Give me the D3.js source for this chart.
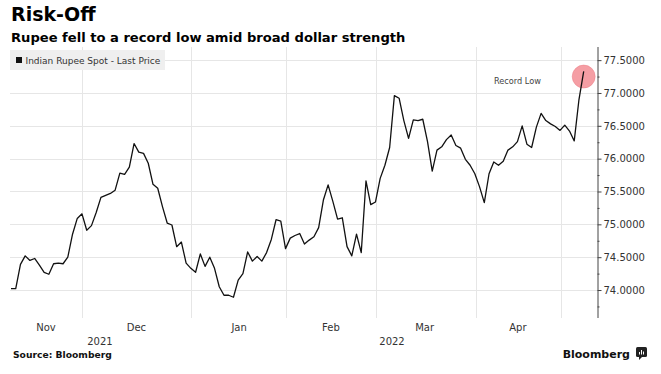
<!DOCTYPE html>
<html>
<head>
<meta charset="utf-8">
<script src="https://cdn.jsdelivr.net/npm/d3@7/dist/d3.min.js"></script>
<style>
  html, body { margin: 0; padding: 0; background: #fff; }
  svg { display: block; }
  text { font-family: "DejaVu Sans", sans-serif; }
</style>
</head>
<body>
<svg id="chart" width="661" height="374"></svg>
<script>
// ---- Data ----
const seriesName = "Indian Rupee Spot - Last Price";
const values = [
  74.02, 74.02, 74.39, 74.52, 74.45, 74.48, 74.38, 74.27, 74.24, 74.40,
  74.41, 74.40, 74.50, 74.85, 75.09, 75.16, 74.91, 74.98, 75.18, 75.41,
  75.44, 75.47, 75.52, 75.78, 75.76, 75.87, 76.23, 76.10, 76.08, 75.93,
  75.61, 75.55, 75.27, 75.02, 74.99, 74.66, 74.73, 74.41, 74.33, 74.27,
  74.55, 74.36, 74.50, 74.33, 74.05, 73.92, 73.92, 73.89, 74.15, 74.25,
  74.58, 74.44, 74.51, 74.44, 74.57, 74.77, 75.07, 75.05, 74.63, 74.79,
  74.83, 74.86, 74.70, 74.76, 74.81, 74.95, 75.37, 75.60, 75.35, 75.08,
  75.10, 74.66, 74.52, 74.85, 74.57, 75.66, 75.30, 75.34, 75.70, 75.90,
  76.17, 76.96, 76.92, 76.58, 76.31, 76.59, 76.58, 76.60, 76.26, 75.81,
  76.13, 76.18, 76.29, 76.36, 76.20, 76.16, 75.99, 75.90, 75.77, 75.57,
  75.33, 75.77, 75.95, 75.90, 75.96, 76.13, 76.18, 76.26, 76.50, 76.22,
  76.17, 76.48, 76.69, 76.58, 76.53, 76.49, 76.43, 76.51, 76.42, 76.27,
  76.90, 77.33
];
const yTickValues = [74.0, 74.5, 75.0, 75.5, 76.0, 76.5, 77.0, 77.5];
const yMinorTickValues = [73.75, 74.25, 74.75, 75.25, 75.75, 76.25, 76.75, 77.25];
const monthLabels = ["Nov", "Dec", "Jan", "Feb", "Mar", "Apr"];
const monthLabelIdx = [7.4, 26.5, 48.2, 67.6, 87.4, 107.1];
const monthGridIdx = [15.0, 38.0, 58.1, 77.1, 98.2, 116.2];
const yearLabels = ["2021", "2022"];
const yearLabelIdx = [18.8, 80.5];
const recordLowValue = 77.25;
const recordLowLabel = "Record Low";
const recordLowLabelIdx = 107.0;
const recordLowLabelValue = 77.14;

// ---- Layout ----
const svg = d3.select("#chart");
const plotLeft = 10, plotRight = 597.5, plotTop = 47, plotBottom = 318;

const x = d3.scaleLinear().domain([0, values.length - 1]).range([11, 583.7]);
const y = d3.scaleLinear().domain([73.574, 77.70]).range([plotBottom, plotTop]);

// Horizontal gridlines
svg.append("g").selectAll("line").data(yTickValues).join("line")
  .attr("x1", plotLeft).attr("x2", plotRight)
  .attr("y1", d => Math.round(y(d)) + 0.5).attr("y2", d => Math.round(y(d)) + 0.5)
  .attr("stroke", "#e6e6e6").attr("stroke-width", 1);

// Vertical gridlines
svg.append("g").selectAll("line").data(monthGridIdx).join("line")
  .attr("x1", d => Math.round(x(d)) + 0.5).attr("x2", d => Math.round(x(d)) + 0.5)
  .attr("y1", plotTop).attr("y2", plotBottom)
  .attr("stroke", "#e6e6e6").attr("stroke-width", 1);

// Legend
const lg = svg.append("g");
lg.append("rect").attr("x", 10).attr("y", 50).attr("width", 155).attr("height", 20).attr("fill", "#efefef");
lg.append("rect").attr("x", 16).attr("y", 57).attr("width", 6).attr("height", 6).attr("fill", "#111");
lg.append("text").attr("x", 25.5).attr("y", 63.5).attr("font-size", 9).attr("fill", "#333").text(seriesName);

// Y axis (right)
const yAxis = d3.axisRight(y).tickValues(yTickValues).tickSize(4).tickPadding(2).tickFormat(d3.format(".4f"));
const ag = svg.append("g").attr("transform", `translate(${plotRight},0)`).call(yAxis);
ag.select(".domain").attr("d", `M0.5,${plotTop}V${plotBottom}`).attr("stroke", "#444");
ag.selectAll(".tick line").attr("stroke", "#444");
ag.selectAll(".tick text").attr("font-family", "DejaVu Sans").attr("font-size", 10).attr("fill", "#333");
const minor = d3.axisRight(y).tickValues(yMinorTickValues).tickSize(2).tickFormat("");
const mg = svg.append("g").attr("transform", `translate(${plotRight},0)`).call(minor);
mg.select(".domain").remove();
mg.selectAll(".tick line").attr("stroke", "#444");

// Month & year labels
svg.append("g").selectAll("text").data(monthLabels).join("text")
  .attr("x", (d, i) => x(monthLabelIdx[i])).attr("y", 331)
  .attr("text-anchor", "middle").attr("font-size", 10).attr("fill", "#333").text(d => d);
svg.append("g").selectAll("text").data(yearLabels).join("text")
  .attr("x", (d, i) => x(yearLabelIdx[i])).attr("y", 345)
  .attr("text-anchor", "middle").attr("font-size", 10).attr("fill", "#333").text(d => d);

// Record low marker
svg.append("circle")
  .attr("cx", x(values.length - 1)).attr("cy", y(recordLowValue)).attr("r", 11.5)
  .attr("fill", "#f3868d").attr("fill-opacity", 0.8)
  .attr("stroke", "#e8707a").attr("stroke-opacity", 0.5).attr("stroke-width", 0.8);
svg.append("text").attr("x", x(recordLowLabelIdx)).attr("y", y(recordLowLabelValue))
  .attr("text-anchor", "middle").attr("font-size", 8.2).attr("fill", "#444").text(recordLowLabel);

// Line
const line = d3.line().x((d, i) => x(i)).y(d => y(d));
svg.append("path").datum(values).attr("d", line)
  .attr("fill", "none").attr("stroke", "#111").attr("stroke-width", 1.3).attr("stroke-linejoin", "round");

// Titles
svg.append("text").attr("x", 11).attr("y", 21).attr("font-size", 19).attr("font-weight", "bold").attr("fill", "#000").text("Risk-Off");
svg.append("text").attr("x", 11).attr("y", 42).attr("font-size", 13.1).attr("font-weight", "bold").attr("fill", "#000")
  .text("Rupee fell to a record low amid broad dollar strength");

// Footer
svg.append("text").attr("x", 13).attr("y", 358).attr("font-size", 9.2).attr("font-weight", "bold").attr("fill", "#111").text("Source: Bloomberg");
svg.append("text").attr("x", 630).attr("y", 358).attr("text-anchor", "end")
  .attr("font-family", "Liberation Sans").attr("font-size", 11).attr("font-weight", "bold").attr("fill", "#111").text("Bloomberg");
const icon = svg.append("g").attr("transform", "translate(636,347)");
icon.append("rect").attr("width", 11).attr("height", 10).attr("rx", 1.5).attr("fill", "#222");
icon.append("path").attr("d", "M3,10 L3,13 L6,10 Z").attr("fill", "#222");
icon.append("path").attr("d", "M3.5,7.5V5M5.5,7.5V3M7.5,7.5V4.5").attr("stroke", "#fff").attr("stroke-width", 1);
</script>
</body>
</html>
